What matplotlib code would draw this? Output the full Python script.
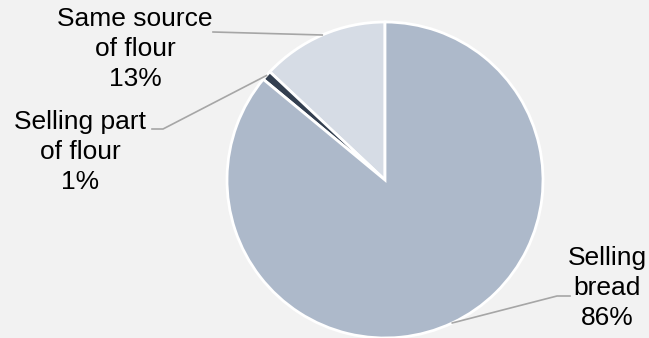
import numpy as np
import matplotlib.pyplot as plt

plt.rcParams["font.family"] = ["Liberation Sans", "DejaVu Sans"]

# share of bakers by flour use, counter-clockwise from 12 o'clock
labels = ["Same source\nof flour", "Selling part\nof flour", "Selling\nbread"]
shares = [13, 1, 86]
colors = ["#D6DCE5", "#333F50", "#ADB9CA"]

# label placement (text centre, elbow, end of leader at the text)
label_pos = [(135, 289), (80, 186), (607, 50)]
elbows = [(213, 306), (163, 209), (557, 42)]
line_ends = [(213, 306), (152, 209), (570, 42)]

CENTER = (385, 158)
RADIUS = 158

fig = plt.figure(figsize=(6.49, 3.38), dpi=100, facecolor="#F2F2F2")
ax = fig.add_axes([0, 0, 1, 1])
ax.set_facecolor("#F2F2F2")

wedges, _ = ax.pie(shares, colors=colors, startangle=90, counterclock=True,
                   center=CENTER, radius=RADIUS,
                   wedgeprops=dict(edgecolor="white", linewidth=2))

ax.set_xlim(0, 649)
ax.set_ylim(0, 338)
ax.set_aspect("equal")
ax.axis("off")

for w, lab, val, pos, elb, end in zip(wedges, labels, shares, label_pos, elbows, line_ends):
    mid = np.deg2rad((w.theta1 + w.theta2) / 2)
    ax_x = CENTER[0] + RADIUS * np.cos(mid)
    ax_y = CENTER[1] + RADIUS * np.sin(mid)
    ax.plot([ax_x, elb[0], end[0]], [ax_y, elb[1], end[1]],
            color="#A6A6A6", linewidth=1.2)
    ax.text(pos[0], pos[1], f"{lab}\n{val}%", ha="center", va="center",
            fontsize=19, linespacing=1.3, color="black")

fig.savefig("out.png", dpi=100, facecolor=fig.get_facecolor())
